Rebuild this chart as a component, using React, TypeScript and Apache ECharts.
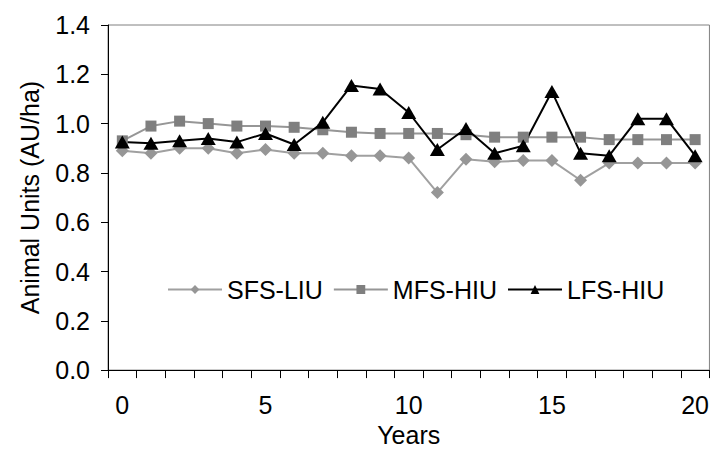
import React, { useEffect, useRef } from "react";
import * as echarts from "echarts";

const years = ["0","1","2","3","4","5","6","7","8","9","10","11","12","13","14","15","16","17","18","19","20"];
const sfsLiu = [0.89, 0.88, 0.9, 0.9, 0.88, 0.895, 0.88, 0.88, 0.87, 0.87, 0.86, 0.72, 0.855, 0.845, 0.85, 0.85, 0.77, 0.84, 0.84, 0.84, 0.84];
const mfsHiu = [0.93, 0.99, 1.01, 1.0, 0.99, 0.99, 0.985, 0.975, 0.965, 0.96, 0.96, 0.96, 0.955, 0.945, 0.945, 0.945, 0.945, 0.935, 0.935, 0.935, 0.935];
const lfsHiu = [0.925, 0.92, 0.93, 0.94, 0.925, 0.96, 0.915, 1.005, 1.155, 1.14, 1.045, 0.895, 0.98, 0.88, 0.91, 1.13, 0.88, 0.87, 1.02, 1.02, 0.87];
const seriesNames = ["SFS-LIU", "MFS-HIU", "LFS-HIU"];

const FONT = "'Liberation Sans', Arial, sans-serif";

export default function App() {
  const ref = useRef<HTMLDivElement>(null);
  useEffect(() => {
    if (!ref.current) return;
    const chart = echarts.init(ref.current, null, { renderer: "svg" });
    chart.setOption({
      animation: false,
      backgroundColor: "#ffffff",
      textStyle: { fontFamily: FONT },
      grid: {
        left: 108,
        top: 25,
        right: 2,
        bottom: 72,
        show: true,
        borderColor: "#808080",
        borderWidth: 1,
      },
      legend: {
        left: 162,
        top: 272,
        itemWidth: 54,
        itemHeight: 11,
        itemGap: 10,
        textStyle: { fontFamily: FONT, fontSize: 25, color: "#000" },
        data: seriesNames,
      },
      xAxis: {
        type: "category",
        data: years,
        boundaryGap: true,
        name: "Years",
        nameLocation: "middle",
        nameGap: 43,
        nameTextStyle: { fontFamily: FONT, fontSize: 25, color: "#000" },
        axisLine: { lineStyle: { color: "#000", width: 1 } },
        axisTick: { show: true, interval: 0, length: 8, lineStyle: { color: "#000" } },
        axisLabel: {
          interval: 4,
          margin: 22,
          fontFamily: FONT,
          fontSize: 25,
          color: "#000",
        },
        splitLine: { show: false },
      },
      yAxis: {
        type: "value",
        min: 0,
        max: 1.4,
        interval: 0.2,
        name: "Animal Units (AU/ha)",
        nameLocation: "middle",
        nameGap: 66,
        nameTextStyle: { fontFamily: FONT, fontSize: 25, color: "#000" },
        axisLine: { show: true, lineStyle: { color: "#000", width: 1 } },
        axisTick: { show: true, length: 7, lineStyle: { color: "#000" } },
        axisLabel: {
          margin: 18,
          fontFamily: FONT,
          fontSize: 25,
          color: "#000",
          formatter: (v: number) => v.toFixed(1),
        },
        splitLine: { show: false },
      },
      series: [
        {
          name: seriesNames[0],
          type: "line",
          data: sfsLiu,
          symbol: "diamond",
          symbolSize: 13,
          itemStyle: { color: "#969696" },
          lineStyle: { color: "#a0a0a0", width: 2 },
        },
        {
          name: seriesNames[1],
          type: "line",
          data: mfsHiu,
          symbol: "rect",
          symbolSize: 11,
          itemStyle: { color: "#7f7f7f" },
          lineStyle: { color: "#969696", width: 2 },
        },
        {
          name: seriesNames[2],
          type: "line",
          data: lfsHiu,
          symbol: "triangle",
          symbolSize: [15, 13],
          itemStyle: { color: "#000" },
          lineStyle: { color: "#000", width: 2 },
        },
      ],
    });
    return () => chart.dispose();
  }, []);
  return (
    <div
      ref={ref}
      style={{ position: "fixed", left: 0, top: 0, width: 712, height: 452 }}
    />
  );
}
